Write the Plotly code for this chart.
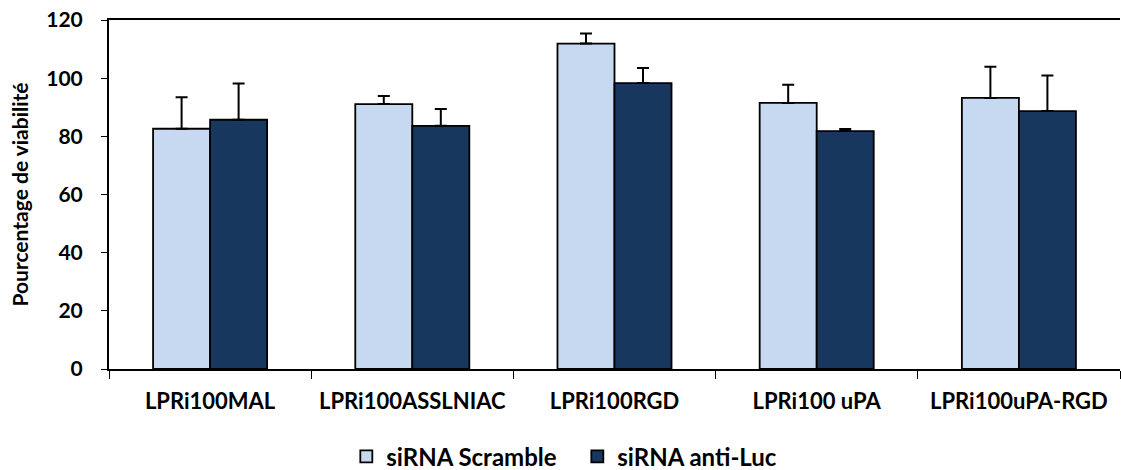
import plotly.graph_objects as go

categories = ["LPRi100MAL", "LPRi100ASSLNIAC", "LPRi100RGD", "LPRi100 uPA", "LPRi100uPA-RGD"]
scramble = [82.6, 91.1, 111.9, 91.5, 93.2]
scramble_err = [10.8, 2.8, 3.5, 6.2, 10.7]
antiluc = [85.7, 83.6, 98.3, 81.8, 88.7]
antiluc_err = [12.5, 5.8, 5.2, 0.7, 12.2]
y_ticks = [0, 20, 40, 60, 80, 100, 120]

FONT = "Lato"

fig = go.Figure()
fig.add_trace(go.Bar(
    name="siRNA Scramble", x=categories, y=scramble,
    marker=dict(color="#c6d9f1", line=dict(color="black", width=1.8)),
    error_y=dict(type="data", array=scramble_err, symmetric=False, arrayminus=[0]*5,
                 color="black", thickness=2, width=6),
))
fig.add_trace(go.Bar(
    name="siRNA anti-Luc", x=categories, y=antiluc,
    marker=dict(color="#17375e", line=dict(color="black", width=1.8)),
    error_y=dict(type="data", array=antiluc_err, symmetric=False, arrayminus=[0]*5,
                 color="black", thickness=2, width=6),
))

fig.update_layout(
    width=1121, height=470,
    margin=dict(l=109, r=1, t=20, b=101),
    paper_bgcolor="white", plot_bgcolor="white",
    barmode="group", bargap=0.436, bargroupgap=0,
    font=dict(family=FONT, size=22, color="black", weight="bold"),
    showlegend=True,
    legend=dict(orientation="h", xref="container", yref="container",
                x=0.515, xanchor="center", y=0.028, yanchor="middle",
                font=dict(family=FONT, size=24, color="black", weight="bold"),
                itemwidth=30, entrywidth=186),
)
fig.update_xaxes(
    type="category", showline=True, linecolor="black", linewidth=2, mirror=True,
    ticks="outside", tickson="boundaries", ticklen=8, tickwidth=1, tickcolor="black",
    ticklabelstandoff=12,
    tickfont=dict(family=FONT, size=22, color="black", weight="bold"),
    showgrid=False,
)
fig.update_yaxes(
    range=[0, 120], tickvals=y_ticks, showline=True, linecolor="black", linewidth=2,
    ticks="outside", ticklen=6, tickwidth=1, tickcolor="black",
    ticklabelstandoff=14,
    tickfont=dict(family=FONT, size=21, color="black", weight="bold"),
    showgrid=False, zeroline=False,
    title=dict(text="Pourcentage de viabilité", standoff=12,
               font=dict(family=FONT, size=21, color="black", weight="bold")),
)

fig.write_html("out.html")
